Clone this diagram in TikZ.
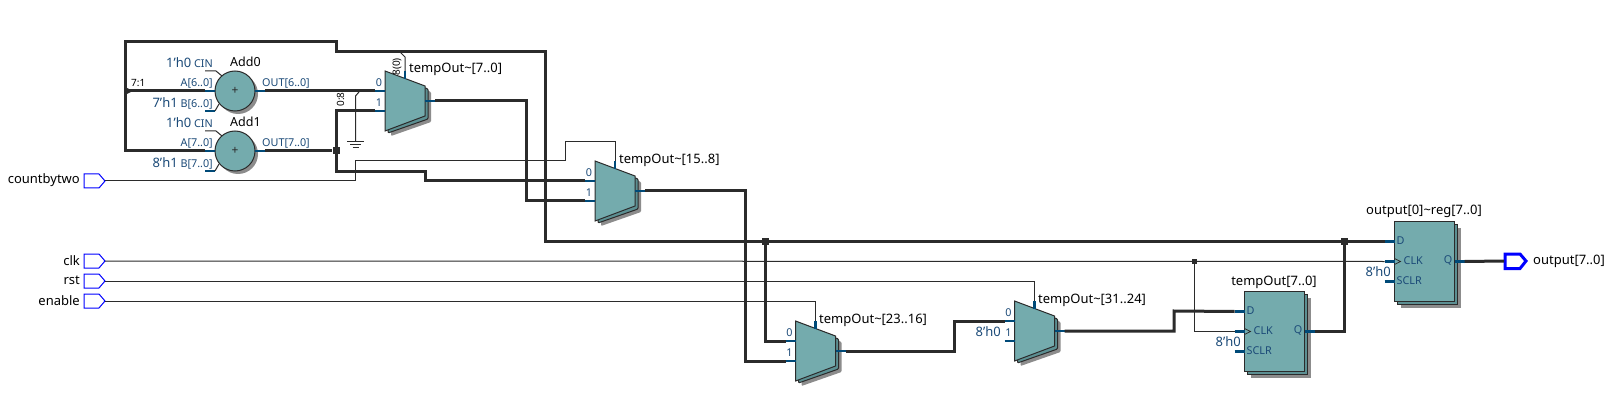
\documentclass[tikz,border=0pt]{standalone}
\usepackage{fontspec}
\setmainfont{Noto Sans}
\definecolor{teal1}{HTML}{74ABAD}
\definecolor{teal2}{HTML}{5C8F92}
\definecolor{stubc}{HTML}{004A78}
\definecolor{lblc}{HTML}{1B4A78}
\definecolor{wirec}{HTML}{2B2B2B}
\definecolor{shad}{HTML}{8C8C8C}
\newcommand{\bigc}[1]{{\fontsize{13}{14}\selectfont #1}}
\tikzset{
 thin wire/.style={draw=wirec,line width=1pt},
 bus/.style={draw=wirec,line width=3pt,line join=miter},
 stub/.style={draw=stubc,line width=2.8pt},
 lbl/.style={font=\fontsize{10.8}{12}\selectfont,text=lblc,inner sep=0pt},
 const/.style={font=\fontsize{13}{14}\selectfont,text=lblc,inner sep=0pt},
 inst/.style={font=\fontsize{13}{14}\selectfont,text=black,inner sep=0pt},
 tiny/.style={font=\fontsize{10}{11}\selectfont,text=black,inner sep=0pt},
 portbox/.style={draw=blue,line width=1pt,fill=white},
 junction/.style={fill=wirec,draw=none,inner sep=0pt,minimum size=#1},
 body/.style={fill=teal1,draw=wirec,line width=1pt},
}
\newcommand{\muxshape}[3]{% left x, top y, name
 \fill[shad,rounded corners=1pt] (#1+6,#2+5) -- (#1+46,#2+21) -- (#1+46,#2+51) -- (#1+6,#2+65) -- cycle;
 \path[body,fill=teal2,rounded corners=1pt] (#1+3,#2+3) -- (#1+43,#2+18) -- (#1+43,#2+48) -- (#1+3,#2+62) -- cycle;
 \path[body] (#1,#2) -- (#1+40,#2+15) -- (#1+40,#2+45) -- (#1,#2+60) -- cycle;
 \draw[stub] (#1-10,#2+20) -- (#1,#2+20);
 \draw[stub] (#1-10,#2+40) -- (#1,#2+40);
 \draw[stub] (#1+40,#2+30) -- (#1+50,#2+30);
 \draw[stub] (#1+20,#2) -- (#1+20,#2+8);
 \coordinate (#3a) at (#1-10,#2+20);
 \coordinate (#3b) at (#1-10,#2+40);
 \coordinate (#3o) at (#1+50,#2+30);
 \coordinate (#3s) at (#1+20,#2);
 \node[lbl] (#3la) at (#1-6,#2+12) {0};
 \node[lbl] (#3lb) at (#1-6,#2+32) {1};
}
\newcommand{\addershape}[3]{% cx, cy, name
 \fill[shad] (#1+3,#2+3) circle (20);
 \path[body] (#1,#2) circle (20);
 \node[inner sep=0pt,font=\fontsize{12}{13}\selectfont,text=wirec] (#3plus) at (#1,#2) {+};
 \draw[stub] (#1-30,#2) -- (#1-20,#2);
 \draw[stub] (#1-30,#2+20) -- (#1-20,#2+20);
 \draw[stub] (#1+20,#2) -- (#1+30,#2);
 \draw[thin wire] (#1-30,#2-20) -- (#1-19,#2-20) -- (#1-13,#2-15);
 \draw[thin wire] (#1-16,#2+13) -- (#1-20,#2+20);
 \coordinate (#3a) at (#1-30,#2);
 \coordinate (#3o) at (#1+30,#2);
}
\newcommand{\regshape}[3]{% left x, top y, name
 \fill[shad] (#1+6,#2+6) rectangle (#1+66,#2+86);
 \path[body,fill=teal2] (#1+3,#2+3) rectangle (#1+63,#2+83);
 \path[body] (#1,#2) rectangle (#1+60,#2+80);
 \draw[stub] (#1-10,#2+20) -- (#1,#2+20);
 \draw[stub] (#1-10,#2+40) -- (#1,#2+40);
 \draw[stub] (#1-10,#2+60) -- (#1,#2+60);
 \draw[stub] (#1+60,#2+40) -- (#1+70,#2+40);
 \draw[draw=wirec,line width=0.7pt] (#1,#2+37) -- (#1+6,#2+40) -- (#1,#2+43);
 \coordinate (#3d) at (#1-10,#2+20);
 \coordinate (#3c) at (#1-10,#2+40);
 \coordinate (#3q) at (#1+70,#2+40);
 \node[lbl,anchor=west] (#3ld) at (#1+2,#2+19.5) {D};
 \node[lbl,anchor=west] (#3lc) at (#1+9,#2+39.5) {CLK};
 \node[lbl,anchor=west] (#3ls) at (#1+2,#2+59.5) {SCLR};
 \node[lbl,anchor=east] (#3lq) at (#1+58,#2+39.5) {Q};
}
\newcommand{\inport}[3]{% y, text, name
 \draw[portbox] (84,#1-7) -- (99,#1-7) -- (105,#1) -- (99,#1+7) -- (84,#1+7) -- cycle;
 \coordinate (#3) at (105,#1);
 \node[inst,anchor=east] (#3l) at (80,#1-.5) {#2};
}
\begin{document}
\begin{tikzpicture}[x=1pt,y=-1pt]
\useasboundingbox (0,0) rectangle (1616,414);
\fill[white] (0,0) rectangle (1616,414);

% adders
\addershape{235}{91}{addA}
\addershape{235}{151}{addB}
\node[inst,anchor=west,font=\fontsize{12.5}{13}\selectfont] (nA) at (230,62) {Add0};
\node[inst,anchor=west,font=\fontsize{12.5}{13}\selectfont] (nB) at (230,121.5) {Add1};
\node[lbl,anchor=east] (cA) at (213,63) {\bigc{1'h0} CIN};
\node[lbl,anchor=east] (cB) at (213,123) {\bigc{1'h0} CIN};
\node[lbl,anchor=east] (iA) at (213,83) {A[6..0]};
\node[lbl,anchor=east] (iB) at (213,143) {A[7..0]};
\node[lbl,anchor=east] (jA) at (213,103) {\bigc{7'h1} B[6..0]};
\node[lbl,anchor=east] (jB) at (213,163) {\bigc{8'h1} B[7..0]};
\node[lbl,anchor=west] (oA) at (262,83) {OUT[6..0]};
\node[lbl,anchor=west] (oB) at (262,143) {OUT[7..0]};
\node[tiny,anchor=west] (sl) at (131,83) {7:1};

% muxes
\muxshape{385}{71}{mA}
\muxshape{595}{161}{mB}
\muxshape{795.5}{321}{mC}
\muxshape{1014.5}{301}{mD}
\node[inst,anchor=west] (tA) at (409,69) {tempOut\textasciitilde[7..0]};
\node[inst,anchor=west] (tB) at (619,160) {tempOut\textasciitilde[15..8]};
\node[inst,anchor=west] (tC) at (819,320) {tempOut\textasciitilde[23..16]};
\node[inst,anchor=west] (tD) at (1038,300) {tempOut\textasciitilde[31..24]};
\node[const,anchor=east] (kD) at (1001,332) {8'h0};

% registers
\regshape{1244.5}{291.5}{rA}
\regshape{1394.5}{221.5}{rB}
\node[inst] (tR) at (1274,282) {tempOut[7..0]};
\node[inst,anchor=west] (tS) at (1366,211.5) {output[0]\textasciitilde reg[7..0]};
\node[const,anchor=east] (kA) at (1241,342) {8'h0};
\node[const,anchor=east] (kB) at (1391,272) {8'h0};

% ports
\inport{181}{countbytwo}{pCnt}
\inport{261}{clk}{pClk}
\inport{281}{rst}{pRst}
\inport{301}{enable}{pEn}
\draw[draw=blue,line width=3pt,fill=white] (1505,254) -- (1520,254) -- (1526,261) -- (1520,268.5) -- (1505,268.5) -- cycle;
\coordinate (pOut) at (1504,261);
\node[inst,anchor=west] (tO) at (1533,261) {output[7..0]};

% junctions
\node[junction=7pt] (jS) at (336,151) {};
\node[junction=7pt] (jM) at (765.5,241.5) {};
\node[junction=7pt] (jQ) at (1344.5,241.5) {};
\node[junction=5pt] (jC) at (1194,261) {};
\node[junction=1pt] (jL) at (125,91) {};
\fill[wirec] (124,86.5) -- (133,91) -- (124,95.5) -- cycle;

% thin wires
\draw[thin wire] (pCnt) -- (355.5,181) -- (355.5,161) -- (565.5,161) -- (565.5,141.5) -- (615,141.5) -- (mBs);
\draw[thin wire] (pClk) -- (rBc);
\draw[thin wire] (jC) |- (rAc);
\draw[thin wire] (pRst) -| (mDs);
\draw[thin wire] (pEn) -| (mCs);
% select of mux 1
\draw[thin wire] (400,52) -- (mAs |- 0,57) -- (mAs);
% ground
\coordinate (gnd) at (355.5,141);
\draw[thin wire] (359,92) -- (355.5,96) -- (gnd);
\draw[thin wire] (347,141.5) -- (364,141.5);
\draw[thin wire] (350,144.5) -- (361,144.5);
\draw[thin wire] (352.5,147.5) -- (358.5,147.5);

% buses
\draw[bus] (addBa) -| (125,42) -- (336,42) -- (336,52) -- (545,52) -- (545,241.5) -- (rBd);
\draw[bus] (jL) -- (addAa);
\draw[bus] (addAo) -- (mAa);
\draw[bus] (addBo) -- (jS);
\draw[bus] (mAb) -| (jS.center) -- (336,172) -- (425,172) -- (425,181) -- (mBa);
\draw[bus] (mAo) -- (526,101) -- (526,201) -- (mBb);
\draw[bus] (mBo) -- (745.5,191) -- (745.5,361) -- (mCb);
\draw[bus] (jM) |- (mCa);
\draw[bus] (mCo) -- (954,351) -- (954,321) -- (mDa);
\draw[bus] (mDo) -- (1174,331) -- (1174,311) -- (rAd);
\draw[bus] (rAq) -| (jQ);
\draw[bus] (rBq) -- (pOut);

\node[tiny,rotate=90] (wA) at (340.5,99.5) {0:8};
\node[tiny,rotate=90] (wB) at (397,67) {8(0)};
\end{tikzpicture}
\end{document}
